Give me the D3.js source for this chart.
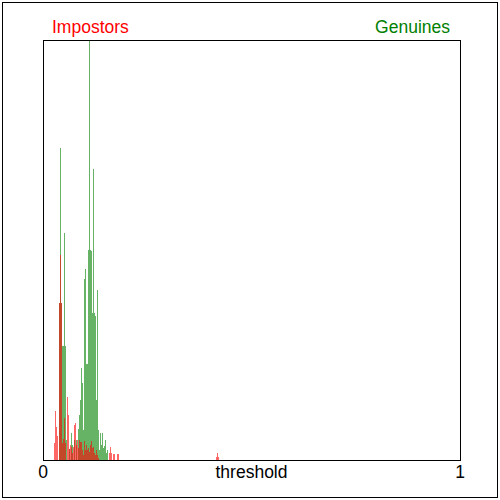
<!DOCTYPE html>
<html>
<head>
<meta charset="utf-8">
<style>
  body { margin: 0; background: #fff; }
  text { font-family: Arial, "Liberation Sans", sans-serif; }
</style>
</head>
<body>
<svg width="500" height="500"></svg>
<script src="https://d3js.org/d3.v7.min.js"></script>
<script>

// histogram bins: first bin starts at binStart, each bin is binWidth wide
var binStart = 0.0264,
  binWidth = 0.0024;

// genuine score counts, one per bin
var genuineCounts = [
  0, 0, 0, 0, 0, 157, 312, 157, 114, 114,
  227, 114, 20, 0, 0, 11, 0, 27, 15, 0,
  20, 0, 20, 0, 31, 45, 60, 92, 77, 30,
  181, 191, 96, 96, 210, 420, 210, 209, 147, 291,
  147, 144, 60, 170, 30, 10, 27, 15, 27, 12,
  14, 20, 7, 10
];

// impostor score counts, one per bin
var impostorCounts = [
  17, 49, 33, 24, 0, 157, 205, 157, 17, 21,
  42, 17, 0, 63, 45, 11, 15, 13, 7, 13,
  35, 37, 15, 20, 12, 20, 18, 18, 10, 5,
  19, 10, 15, 10, 12, 8, 15, 19, 12, 13,
  7, 5, 10, 5, 2, 0, 0, 0, 0, 0,
  0, 0, 0, 0, 0, 7, 13, 7, 0, 6,
  6, 0, 0, 6, 6
];

// a few stray impostor scores far out near the threshold
var impostorTailScores = [0.4155, 0.4179, 0.4203];
var impostorTailCounts = [3, 7, 3];

var axisLabels = ["0", "threshold", "1"];
var axisLabelValues = [0, 0.5, 1];

var svg = d3.select("svg");

var x = d3.scaleLinear().domain([0, 1]).range([43, 460]),
  y = d3.scaleLinear().domain([0, 420]).range([460, 40]);

function toBars(counts) {
  return counts.map(function(c, i) {
    return {score: binStart + i * binWidth, count: c};
  }).filter(function(d) { return d.count > 0; });
}

var genuine = toBars(genuineCounts);
var impostor = toBars(impostorCounts).concat(impostorTailScores.map(function(s, i) {
  return {score: s, count: impostorTailCounts[i]};
}));

// outer frame
svg.append("rect")
  .attr("x", 2.5).attr("y", 2.5)
  .attr("width", 495).attr("height", 495)
  .attr("fill", "none").attr("stroke", "#000");

var g = svg.append("g").attr("shape-rendering", "crispEdges");

g.selectAll(".gen")
  .data(genuine)
  .enter().append("rect")
    .attr("class", "gen")
    .attr("x", function(d) { return x(d.score); })
    .attr("width", function(d) { return x(d.score + binWidth) - x(d.score); })
    .attr("y", function(d) { return y(d.count); })
    .attr("height", function(d) { return y(0) - y(d.count); })
    .attr("fill", "rgba(0, 128, 0, 0.6)");

g.selectAll(".imp")
  .data(impostor)
  .enter().append("rect")
    .attr("class", "imp")
    .attr("x", function(d) { return x(d.score); })
    .attr("width", function(d) { return x(d.score + binWidth) - x(d.score); })
    .attr("y", function(d) { return y(d.count); })
    .attr("height", function(d) { return y(0) - y(d.count); })
    .attr("fill", "rgba(255, 0, 0, 0.6)");

// plot box
svg.append("rect")
  .attr("x", x(0) + 0.5).attr("y", y(420) + 0.5)
  .attr("width", x(1) - x(0)).attr("height", y(0) - y(420))
  .attr("fill", "none").attr("stroke", "#000");

svg.append("text")
  .attr("x", 52).attr("y", 33)
  .attr("fill", "#ff0000")
  .style("font-size", "17.5px")
  .text("Impostors");

svg.append("text")
  .attr("x", 450).attr("y", 33)
  .attr("text-anchor", "end")
  .attr("fill", "#008000")
  .style("font-size", "17.5px")
  .text("Genuines");

svg.selectAll(".lbl")
  .data(axisLabels)
  .enter().append("text")
    .attr("class", "lbl")
    .attr("x", function(d, i) { return x(axisLabelValues[i]); })
    .attr("y", 478)
    .attr("text-anchor", "middle")
    .attr("fill", "#000")
    .style("font-size", "17.5px")
    .text(function(d) { return d; });

</script>
</body>
</html>
